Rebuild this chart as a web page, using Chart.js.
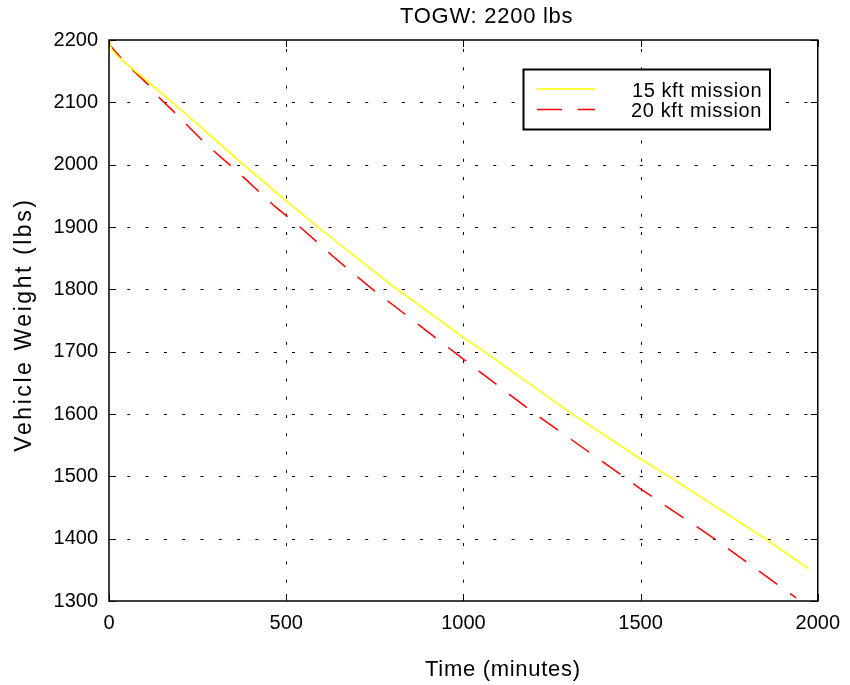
<!DOCTYPE html>
<html><head><meta charset="utf-8">
<script src="https://cdn.jsdelivr.net/npm/chart.js@4.4.1/dist/chart.umd.min.js"></script>
<style>html,body{margin:0;padding:0;background:#fff}</style>
</head><body>
<canvas id="c" width="850" height="685"></canvas>
<script>
const titleText = "TOGW: 2200 lbs";
const xLabel = "Time (minutes)";
const yLabel = "Vehicle Weight (lbs)";
const seriesNames = ["15 kft mission", "20 kft mission"];
const xTicks = [0, 500, 1000, 1500, 2000];
const yTicks = [1300, 1400, 1500, 1600, 1700, 1800, 1900, 2000, 2100, 2200];

const time15 = [0, 8, 36, 129, 181, 274, 363, 500, 585, 799, 1000, 1059, 1307, 1500, 1580, 1852, 1974];
const weight15 = [2200, 2184, 2168, 2124, 2099, 2053, 2008, 1942, 1902, 1806, 1723, 1700, 1600, 1528, 1500, 1400, 1352];

const time20 = [0, 5, 31, 65, 113, 143, 190, 223, 270, 304, 352, 387, 434, 468, 516, 551, 599, 632, 682, 744, 1000, 1198, 1451, 1500, 1708, 1939];
const weight20 = [2200, 2190, 2173, 2153, 2127, 2107, 2081, 2062, 2035, 2018, 1994, 1976, 1951, 1933, 1911, 1894, 1870, 1853, 1829, 1800, 1688, 1602, 1500, 1480, 1400, 1305];

const FONT = '"Liberation Sans", Arial, Helvetica, sans-serif';

function spacedText(ctx, text, left, baseline, targetW) {
  ctx.letterSpacing = '0px';
  const w = ctx.measureText(text).width;
  const ls = (targetW - w) / Math.max(1, text.length - 1);
  ctx.letterSpacing = ls.toFixed(2) + 'px';
  ctx.textAlign = 'left';
  ctx.textBaseline = 'alphabetic';
  ctx.fillText(text, left, baseline);
  ctx.letterSpacing = '0px';
}

const decor = {
  id: 'decor',
  beforeDatasetsDraw(chart) {
    const {ctx, chartArea: a, scales: {x, y}} = chart;
    ctx.save();
    ctx.strokeStyle = '#000';
    ctx.lineWidth = 1;
    ctx.setLineDash([3, 15.3]);
    xTicks.slice(1, -1).forEach(v => {
      const px = Math.round(x.getPixelForValue(v)) + 0.5;
      ctx.beginPath(); ctx.moveTo(px, a.bottom); ctx.lineTo(px, a.top); ctx.stroke();
    });
    yTicks.slice(1, -1).forEach(v => {
      const py = Math.round(y.getPixelForValue(v)) + 0.5;
      ctx.beginPath(); ctx.moveTo(a.left, py); ctx.lineTo(a.right, py); ctx.stroke();
    });
    ctx.restore();
  },
  afterDatasetsDraw(chart) {
    const {ctx, chartArea: a, scales: {x, y}} = chart;
    ctx.save();
    ctx.setLineDash([]);
    ctx.strokeStyle = '#000';
    ctx.lineWidth = 1.5;
    ctx.strokeRect(a.left, a.top, a.right - a.left, a.bottom - a.top);
    ctx.lineWidth = 1;
    const tl = 7;
    xTicks.forEach(v => {
      const px = Math.round(x.getPixelForValue(v)) + 0.5;
      ctx.beginPath();
      ctx.moveTo(px, a.bottom); ctx.lineTo(px, a.bottom - tl);
      ctx.moveTo(px, a.top); ctx.lineTo(px, a.top + tl);
      ctx.stroke();
    });
    yTicks.forEach(v => {
      const py = Math.round(y.getPixelForValue(v)) + 0.5;
      ctx.beginPath();
      ctx.moveTo(a.left, py); ctx.lineTo(a.left + tl, py);
      ctx.moveTo(a.right, py); ctx.lineTo(a.right - tl, py);
      ctx.stroke();
    });
    // legend
    const lx = 523.5, ly = 69.5, lw = 246.5, lh = 60;
    ctx.fillStyle = '#fff';
    ctx.fillRect(lx, ly, lw, lh);
    ctx.lineWidth = 2;
    ctx.strokeRect(lx, ly, lw, lh);
    ctx.lineWidth = 1.5;
    ctx.strokeStyle = chart.data.datasets[0].borderColor;
    ctx.beginPath(); ctx.moveTo(537, 89); ctx.lineTo(595, 89); ctx.stroke();
    ctx.strokeStyle = chart.data.datasets[1].borderColor;
    ctx.setLineDash([25, 15.5]);
    ctx.beginPath(); ctx.moveTo(537, 109.5); ctx.lineTo(595, 109.5); ctx.stroke();
    ctx.setLineDash([]);
    ctx.fillStyle = '#000';
    ctx.font = '20px ' + FONT;
    spacedText(ctx, seriesNames[0], 632, 96.7, 129.5);
    spacedText(ctx, seriesNames[1], 631, 117.3, 130.5);
    ctx.font = '22px ' + FONT;
    spacedText(ctx, titleText, 400, 22.7, 172.5);
    spacedText(ctx, xLabel, 425, 676, 155);
    ctx.font = '23px ' + FONT;
    ctx.translate(31, 451.7);
    ctx.rotate(-Math.PI / 2);
    spacedText(ctx, yLabel, 0, 0, 251.7);
    ctx.restore();
  }
};

const toPts = (xs, ys) => xs.map((t, i) => ({x: t, y: ys[i]}));

new Chart(document.getElementById('c'), {
  type: 'line',
  data: {
    datasets: [
      {label: seriesNames[0], data: toPts(time15, weight15), borderColor: '#ffff00', borderWidth: 1.5, pointRadius: 0, tension: 0, fill: false},
      {label: seriesNames[1], data: toPts(time20, weight20), borderColor: '#ff0000', borderWidth: 1.5, borderDash: [22.5, 15.8], pointRadius: 0, tension: 0, fill: false}
    ]
  },
  options: {
    responsive: false,
    animation: false,
    devicePixelRatio: 1,
    layout: {padding: {top: 40, right: 28, left: 0, bottom: 0}},
    plugins: {legend: {display: false}, title: {display: false}, tooltip: {enabled: false}},
    scales: {
      x: {
        type: 'linear', min: 0, max: 2000,
        afterFit: s => { s.height = 84; },
        afterBuildTicks: s => { s.ticks = xTicks.map(v => ({value: v})); },
        grid: {display: false, drawTicks: false},
        border: {display: false},
        ticks: {color: '#000', font: {family: FONT, size: 20}, padding: 10, maxRotation: 0, callback: v => String(v)}
      },
      y: {
        type: 'linear', min: 1300, max: 2200,
        afterFit: s => { s.width = 109; },
        afterBuildTicks: s => { s.ticks = yTicks.map(v => ({value: v})); },
        grid: {display: false, drawTicks: false},
        border: {display: false},
        ticks: {color: '#000', font: {family: FONT, size: 20}, padding: 11, callback: v => String(v)}
      }
    }
  },
  plugins: [decor]
});
</script>
</body></html>
